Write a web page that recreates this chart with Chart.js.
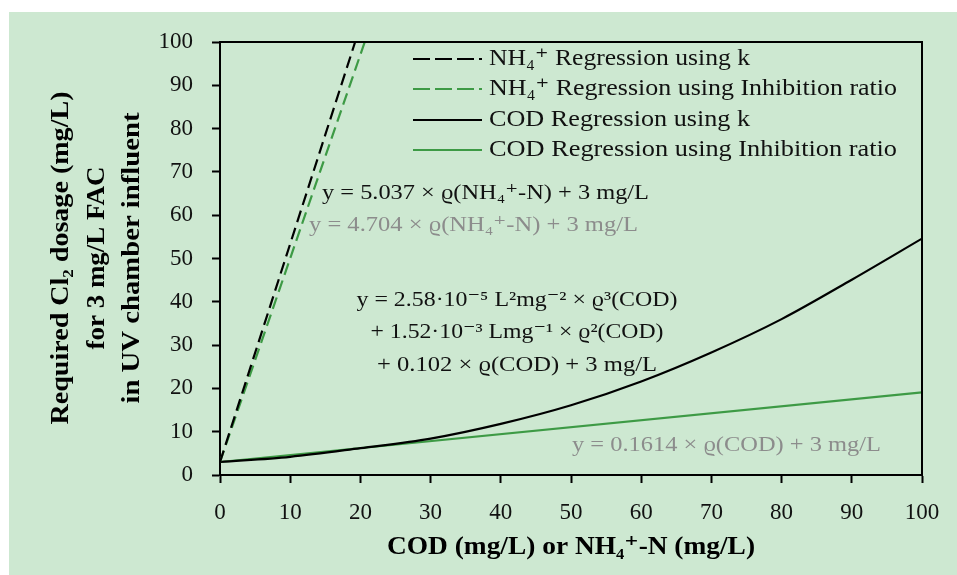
<!DOCTYPE html>
<html>
<head>
<meta charset="utf-8">
<script src="https://cdn.jsdelivr.net/npm/chart.js@4.4.0/dist/chart.umd.min.js"></script>
<style>
  html, body { margin: 0; padding: 0; background: #fff; }
  #wrap { width: 957px; height: 575px; }
</style>
</head>
<body>
<div id="wrap"><canvas id="chart" width="957" height="575"></canvas></div>
<script>
// Chlorine dosage regressions

const seriesNames = [
  'NH\u2084\u207A Regression using k',
  'NH\u2084\u207A Regression using Inhibition ratio',
  'COD Regression using k',
  'COD Regression using Inhibition ratio'
];

// NH4+ lines (both start at 3 mg/L and leave the plot at 100)
const nh4KX = [0, 19.25];
const nh4KY = [3, 100];
const nh4InhX = [0, 20.62];
const nh4InhY = [3, 100];

// COD lines
const codKX = [0, 10, 20, 30, 40, 50, 60, 70, 80, 90, 100];
const codKY = [3.0, 4.2, 6.2, 8.4, 11.8, 16.1, 21.6, 28.3, 36.0, 45.1, 54.6];
const codInhX = [0, 100];
const codInhY = [3, 19.1];

const xTicks = [0, 10, 20, 30, 40, 50, 60, 70, 80, 90, 100];
const yTicks = [0, 10, 20, 30, 40, 50, 60, 70, 80, 90, 100];

const SERIF = "'Liberation Serif', 'DejaVu Serif', serif";
const GREEN = '#3d9a45';
const GRAY = '#8c8c8c';
const PANEL = '#cde8d1';

const pts = (xs, ys) => xs.map((x, i) => ({ x: x, y: ys[i] }));

// draw text squeezed / stretched to a given width
function fitText(ctx, txt, x, y, w, align) {
  const m = ctx.measureText(txt).width;
  ctx.save();
  ctx.translate(x, y);
  ctx.scale(w / m, 1);
  ctx.textAlign = 'left';
  let x0 = 0;
  if (align === 'center') x0 = -m / 2;
  if (align === 'right') x0 = -m;
  ctx.fillText(txt, x0, 0);
  ctx.restore();
}

const panelBg = {
  id: 'panelBg',
  beforeDraw(chart) {
    const ctx = chart.ctx;
    ctx.save();
    ctx.fillStyle = PANEL;
    ctx.fillRect(9, 12, chart.width - 9, chart.height - 12);
    ctx.restore();
  }
};

const extras = {
  id: 'extras',
  afterDraw(chart) {
    const ctx = chart.ctx;
    const a = chart.chartArea;
    ctx.save();

    // frame top + right
    ctx.strokeStyle = '#000';
    ctx.lineWidth = 2;
    ctx.beginPath();
    ctx.moveTo(a.left, a.top);
    ctx.lineTo(a.right, a.top);
    ctx.lineTo(a.right, a.bottom);
    ctx.stroke();

    // legend inside the plot
    const legDash = [[17, 5], [17, 5], [], []];
    const rowY = [59, 89, 120, 150];
    const textW = [261, 408, 261, 408];
    ctx.font = '23px ' + SERIF;
    ctx.textBaseline = 'middle';
    chart.data.datasets.forEach((ds, i) => {
      ctx.strokeStyle = ds.borderColor;
      ctx.lineWidth = 2;
      ctx.setLineDash(legDash[i]);
      ctx.beginPath();
      ctx.moveTo(413, rowY[i]);
      ctx.lineTo(482, rowY[i]);
      ctx.stroke();
      ctx.setLineDash([]);
      ctx.fillStyle = '#111';
      fitText(ctx, ds.label, 489, rowY[i], textW[i], 'left');
    });

    // regression equations
    ctx.font = '22px ' + SERIF;
    ctx.fillStyle = '#111';
    fitText(ctx, 'y = 5.037 \u00D7 \u03F1(NH\u2084\u207A-N) + 3 mg/L', 322, 193, 327, 'left');
    ctx.fillStyle = GRAY;
    fitText(ctx, 'y = 4.704 \u00D7 \u03F1(NH\u2084\u207A-N) + 3 mg/L', 309, 225, 329, 'left');
    ctx.fillStyle = '#111';
    fitText(ctx, 'y = 2.58\u00B710\u207B\u2075 L\u00B2mg\u207B\u00B2 \u00D7 \u03F1\u00B3(COD)', 517, 300, 321, 'center');
    fitText(ctx, '+ 1.52\u00B710\u207B\u00B3 Lmg\u207B\u00B9 \u00D7 \u03F1\u00B2(COD)', 517, 332, 293, 'center');
    fitText(ctx, '+ 0.102 \u00D7 \u03F1(COD) + 3 mg/L', 517, 365, 280, 'center');
    ctx.fillStyle = GRAY;
    fitText(ctx, 'y = 0.1614 \u00D7 \u03F1(COD) + 3 mg/L', 572, 445, 309, 'left');

    // axis titles
    ctx.fillStyle = '#000';
    ctx.font = 'bold 26px ' + SERIF;
    fitText(ctx, 'COD (mg/L) or NH\u2084\u207A-N (mg/L)', 571, 547, 368, 'center');

    ctx.font = 'bold 25px ' + SERIF;
    const yTitle = [
      ['Required Cl\u2082 dosage (mg/L)', 62, 333],
      ['for 3 mg/L FAC', 98, 183],
      ['in UV chamber influent', 133, 291]
    ];
    yTitle.forEach(t => {
      ctx.save();
      ctx.translate(t[1], 258);
      ctx.rotate(-Math.PI / 2);
      fitText(ctx, t[0], 0, 0, t[2], 'center');
      ctx.restore();
    });

    ctx.restore();
  }
};

new Chart(document.getElementById('chart'), {
  type: 'scatter',
  data: {
    datasets: [
      { label: seriesNames[0], data: pts(nh4KX, nh4KY), borderColor: '#000', borderDash: [12, 6] },
      { label: seriesNames[1], data: pts(nh4InhX, nh4InhY), borderColor: GREEN, borderDash: [12, 6] },
      { label: seriesNames[2], data: pts(codKX, codKY), borderColor: '#000', cubicInterpolationMode: 'monotone' },
      { label: seriesNames[3], data: pts(codInhX, codInhY), borderColor: GREEN }
    ].map(d => Object.assign({ showLine: true, pointRadius: 0, borderWidth: 2.2, fill: false }, d))
  },
  options: {
    responsive: false,
    animation: false,
    events: [],
    layout: { padding: { left: 0, right: 35, top: 42, bottom: 0 } },
    plugins: {
      legend: { display: false },
      tooltip: { enabled: false }
    },
    scales: {
      x: {
        type: 'linear',
        min: 0,
        max: 100,
        afterBuildTicks: s => { s.ticks = xTicks.map(v => ({ value: v })); },
        afterFit: s => { s.height = 100; },
        border: { color: '#000', width: 2 },
        grid: { drawOnChartArea: false, tickLength: 8, tickColor: '#000', tickWidth: 2 },
        ticks: { color: '#111', padding: 16, maxRotation: 0, font: { family: SERIF, size: 23 } }
      },
      y: {
        type: 'linear',
        min: 0,
        max: 100,
        afterBuildTicks: s => { s.ticks = yTicks.map(v => ({ value: v })); },
        afterFit: s => { s.width = 220; },
        border: { color: '#000', width: 2 },
        grid: { drawOnChartArea: false, tickLength: 8, tickColor: '#000', tickWidth: 2 },
        ticks: { color: '#111', padding: 19, font: { family: SERIF, size: 23 } }
      }
    }
  },
  plugins: [panelBg, extras]
});
</script>
</body>
</html>
